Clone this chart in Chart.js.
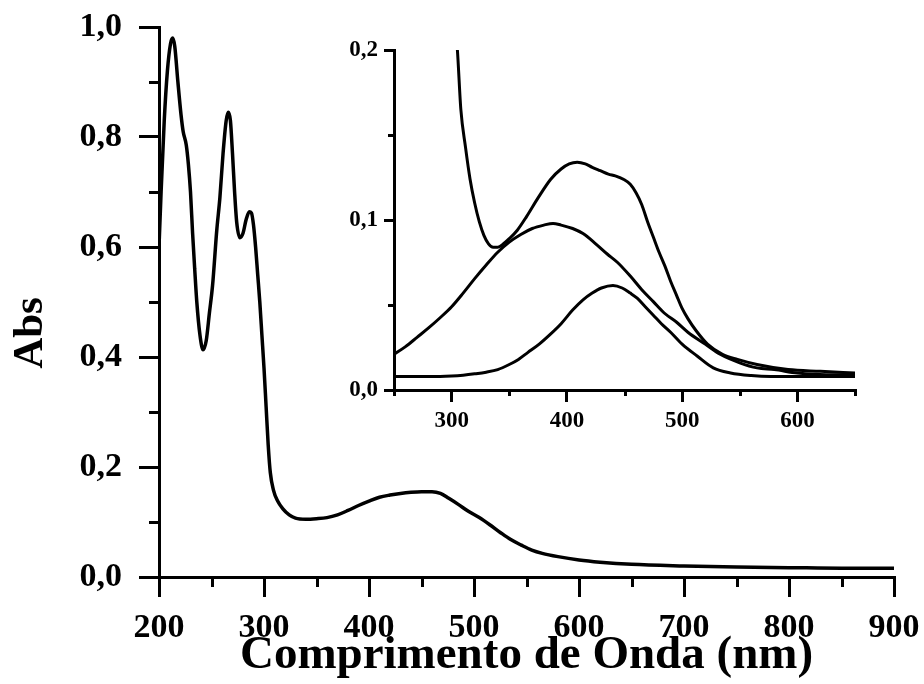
<!DOCTYPE html>
<html lang="pt">
<head>
  <meta charset="UTF-8" />
  <title>Abs</title>
  <style>
    * { margin: 0; padding: 0; }
    body { background: #fff; }
    .wrap { position: relative; width: 924px; height: 684px; }
    #main { position: absolute; left: 0; top: 0; }
    #inset { position: absolute; left: 330px; top: 30px; }
  </style>
</head>
<body>
  <div class="wrap">
    <canvas id="main" width="924" height="684"></canvas>
    <canvas id="inset" width="540" height="420"></canvas>
  </div>
  <script src="https://cdn.jsdelivr.net/npm/chart.js@4.4.1/dist/chart.umd.min.js"></script>
  <script>
    // espectro principal
    const mainNm = [200, 202, 205, 208, 211, 213, 215, 218, 221, 223, 226, 228, 230, 232, 234, 236, 239, 242, 245, 248,
      251, 255, 258, 261, 264, 266, 268, 270, 272, 274, 277, 280, 283, 286, 288, 290, 292, 294, 296, 298,
      300, 302, 304, 306, 309, 313, 318, 324, 330, 340, 350, 360, 370, 380, 390, 400, 410, 420, 430, 440,
      450, 460, 468, 476, 485, 495, 505, 515, 525, 535, 545, 555, 565, 580, 600, 620, 650, 700, 750, 800, 850, 900];
    const mainAbs = [0.60, 0.70, 0.83, 0.92, 0.97, 0.98, 0.965, 0.90, 0.84, 0.81, 0.785, 0.75, 0.70, 0.625, 0.56, 0.50, 0.44, 0.413, 0.43, 0.48,
      0.53, 0.63, 0.69, 0.77, 0.83, 0.845, 0.83, 0.77, 0.70, 0.645, 0.617, 0.625, 0.65, 0.664, 0.662, 0.64, 0.60, 0.55, 0.50, 0.44,
      0.38, 0.31, 0.24, 0.19, 0.158, 0.138, 0.124, 0.113, 0.107, 0.105, 0.106, 0.108, 0.113, 0.121, 0.13, 0.138, 0.145, 0.149, 0.152, 0.154,
      0.155, 0.155, 0.152, 0.143, 0.132, 0.119, 0.108, 0.095, 0.081, 0.068, 0.058, 0.049, 0.043, 0.037, 0.031, 0.027, 0.023, 0.020, 0.018, 0.017, 0.016, 0.016];

    // inserto
    const insetNmA = [303, 305, 308, 312, 316, 320, 324, 328, 332, 336, 340, 345, 350, 357, 365, 375, 386, 395, 402, 409,
      416, 422, 429, 436, 442, 449, 455, 460, 465, 470, 475, 480, 485, 490, 495, 500, 505, 512, 522, 535,
      548, 565, 592, 620, 650];
    const insetAbsA = [0.215, 0.2, 0.165, 0.143, 0.124, 0.11, 0.099, 0.091, 0.086, 0.084, 0.084, 0.086, 0.089, 0.094, 0.102, 0.113, 0.124, 0.13, 0.133, 0.134,
      0.133, 0.131, 0.129, 0.127, 0.126, 0.124, 0.121, 0.116, 0.109, 0.099, 0.090, 0.081, 0.073, 0.064, 0.056, 0.048, 0.042, 0.035, 0.027, 0.021,
      0.018, 0.015, 0.012, 0.011, 0.010];
    const insetNmB = [250, 260, 270, 280, 290, 300, 310, 320, 330, 340, 350, 360, 370, 380, 388, 395, 405, 414, 425, 435,
      444, 455, 465, 475, 485, 495, 505, 520, 533, 550, 565, 580, 600, 625, 650];
    const insetAbsB = [0.021, 0.0255, 0.031, 0.0365, 0.0425, 0.049, 0.057, 0.0655, 0.0735, 0.081, 0.087, 0.0915, 0.095, 0.097, 0.098, 0.097, 0.095, 0.092, 0.086, 0.080,
      0.075, 0.067, 0.059, 0.052, 0.045, 0.040, 0.034, 0.027, 0.021, 0.016, 0.013, 0.012, 0.010, 0.009, 0.009];
    const insetNmC = [250, 270, 290, 300, 310, 320, 330, 340, 350, 358, 366, 376, 386, 395, 405, 414, 422, 430, 440, 448,
      455, 461, 468, 475, 482, 490, 500, 513, 527, 542, 560, 577, 600, 650];
    const insetAbsC = [0.008, 0.008, 0.008, 0.0082, 0.0087, 0.0095, 0.0105, 0.012, 0.015, 0.018, 0.022, 0.027, 0.033, 0.039, 0.047, 0.053, 0.057, 0.060, 0.0615, 0.060,
      0.057, 0.054, 0.049, 0.044, 0.039, 0.034, 0.027, 0.020, 0.013, 0.010, 0.0085, 0.008, 0.008, 0.008];

    // ticks
    const mainMajorX = [200, 300, 400, 500, 600, 700, 800, 900];
    const mainMajorY = [0, 0.2, 0.4, 0.6, 0.8, 1.0];
    const mainMinorX = [250, 350, 450, 550, 650, 750, 850];
    const mainMinorY = [0.1, 0.3, 0.5, 0.7, 0.9];
    const insetMajorX = [300, 400, 500, 600];
    const insetMajorY = [0, 0.1, 0.2];
    const insetMinorX = [250, 350, 450, 550, 650];
    const insetMinorY = [0.05, 0.15];

    const serif = '"Liberation Serif", "Times New Roman", serif';
    const comma = (v) => v.toFixed(1).replace('.', ',');
    const pts = (xs, ys) => xs.map((x, i) => ({ x: x, y: ys[i] }));
    const setTicks = (vals) => (s) => { s.ticks = vals.map((v) => ({ value: v })); };

    const lineStyle = {
      borderColor: '#000',
      pointRadius: 0,
      fill: false,
      cubicInterpolationMode: 'monotone',
    };

    // ticks menores + rotulo "Abs"
    const extras = {
      id: 'extras',
      afterDraw(chart, args, opts) {
        const ctx = chart.ctx;
        const area = chart.chartArea;
        const xs = chart.scales.x, ys = chart.scales.y;
        ctx.save();
        ctx.strokeStyle = '#000';
        ctx.lineWidth = opts.width;
        ctx.beginPath();
        opts.minorX.forEach((v) => {
          const px = Math.round(xs.getPixelForValue(v)) + 0.5;
          ctx.moveTo(px, area.bottom);
          ctx.lineTo(px, area.bottom + opts.len);
        });
        opts.minorY.forEach((v) => {
          const py = Math.round(ys.getPixelForValue(v)) + 0.5;
          ctx.moveTo(area.left - opts.len, py);
          ctx.lineTo(area.left, py);
        });
        ctx.stroke();
        if (opts.yTitle) {
          ctx.translate(opts.yTitle.x, opts.yTitle.y);
          ctx.rotate(-Math.PI / 2);
          ctx.fillStyle = '#000';
          ctx.font = 'bold 43px ' + serif;
          ctx.textAlign = 'center';
          ctx.textBaseline = 'middle';
          ctx.fillText(opts.yTitle.text, 0, 0);
        }
        ctx.restore();
      }
    };

    new Chart(document.getElementById('main'), {
      type: 'line',
      data: {
        datasets: [{ ...lineStyle, data: pts(mainNm, mainAbs), borderWidth: 3.5 }]
      },
      options: {
        responsive: false,
        animation: false,
        layout: { padding: { top: 27, right: 30, left: 0, bottom: 0 } },
        plugins: {
          legend: { display: false },
          tooltip: { enabled: false },
          extras: { minorX: mainMinorX, minorY: mainMinorY, len: 10, width: 3, yTitle: { text: 'Abs', x: 31, y: 333 } }
        },
        scales: {
          x: {
            type: 'linear',
            min: 200,
            max: 900,
            border: { display: true, color: '#000', width: 3 },
            grid: { drawOnChartArea: false, color: '#000', lineWidth: 3, tickLength: 20 },
            ticks: { color: '#000', padding: 11, maxRotation: 0, autoSkip: false, font: { family: serif, size: 34, weight: 'bold' } },
            title: {
              display: true,
              text: 'Comprimento de Onda (nm)',
              color: '#000',
              font: { family: serif, size: 47, weight: 'bold' },
              padding: { top: 0, bottom: 0 }
            },
            afterBuildTicks: setTicks(mainMajorX),
            afterFit: (s) => { s.height = 107; s.paddingLeft = 0; s.paddingRight = 0; }
          },
          y: {
            min: 0,
            max: 1,
            border: { display: true, color: '#000', width: 3 },
            grid: { drawOnChartArea: false, color: '#000', lineWidth: 3, tickLength: 20 },
            ticks: { color: '#000', padding: 17, autoSkip: false, callback: comma, font: { family: serif, size: 34, weight: 'bold' } },
            afterBuildTicks: setTicks(mainMajorY),
            afterFit: (s) => { s.width = 159; s.paddingTop = 0; s.paddingBottom = 0; }
          }
        }
      },
      plugins: [extras]
    });

    new Chart(document.getElementById('inset'), {
      type: 'line',
      data: {
        datasets: [
          { ...lineStyle, data: pts(insetNmA, insetAbsA), borderWidth: 3 },
          { ...lineStyle, data: pts(insetNmB, insetAbsB), borderWidth: 3 },
          { ...lineStyle, data: pts(insetNmC, insetAbsC), borderWidth: 3 }
        ]
      },
      options: {
        responsive: false,
        animation: false,
        layout: { padding: { top: 20, right: 15, left: 0, bottom: 0 } },
        plugins: {
          legend: { display: false },
          tooltip: { enabled: false },
          extras: { minorX: insetMinorX, minorY: insetMinorY, len: 6, width: 3 }
        },
        scales: {
          x: {
            type: 'linear',
            min: 250,
            max: 650,
            border: { display: true, color: '#000', width: 3 },
            grid: { drawOnChartArea: false, color: '#000', lineWidth: 3, tickLength: 12 },
            ticks: { color: '#000', padding: 5, maxRotation: 0, autoSkip: false, font: { family: serif, size: 23, weight: 'bold' } },
            afterBuildTicks: setTicks(insetMajorX),
            afterFit: (s) => { s.height = 60; s.paddingLeft = 0; s.paddingRight = 0; }
          },
          y: {
            min: 0,
            max: 0.2,
            border: { display: true, color: '#000', width: 3 },
            grid: { drawOnChartArea: false, color: '#000', lineWidth: 3, tickLength: 10 },
            ticks: { color: '#000', padding: 6, autoSkip: false, callback: comma, font: { family: serif, size: 23, weight: 'bold' } },
            afterBuildTicks: setTicks(insetMajorY),
            afterFit: (s) => { s.width = 64; s.paddingTop = 0; s.paddingBottom = 0; }
          }
        }
      },
      plugins: [extras]
    });
  </script>
</body>
</html>
